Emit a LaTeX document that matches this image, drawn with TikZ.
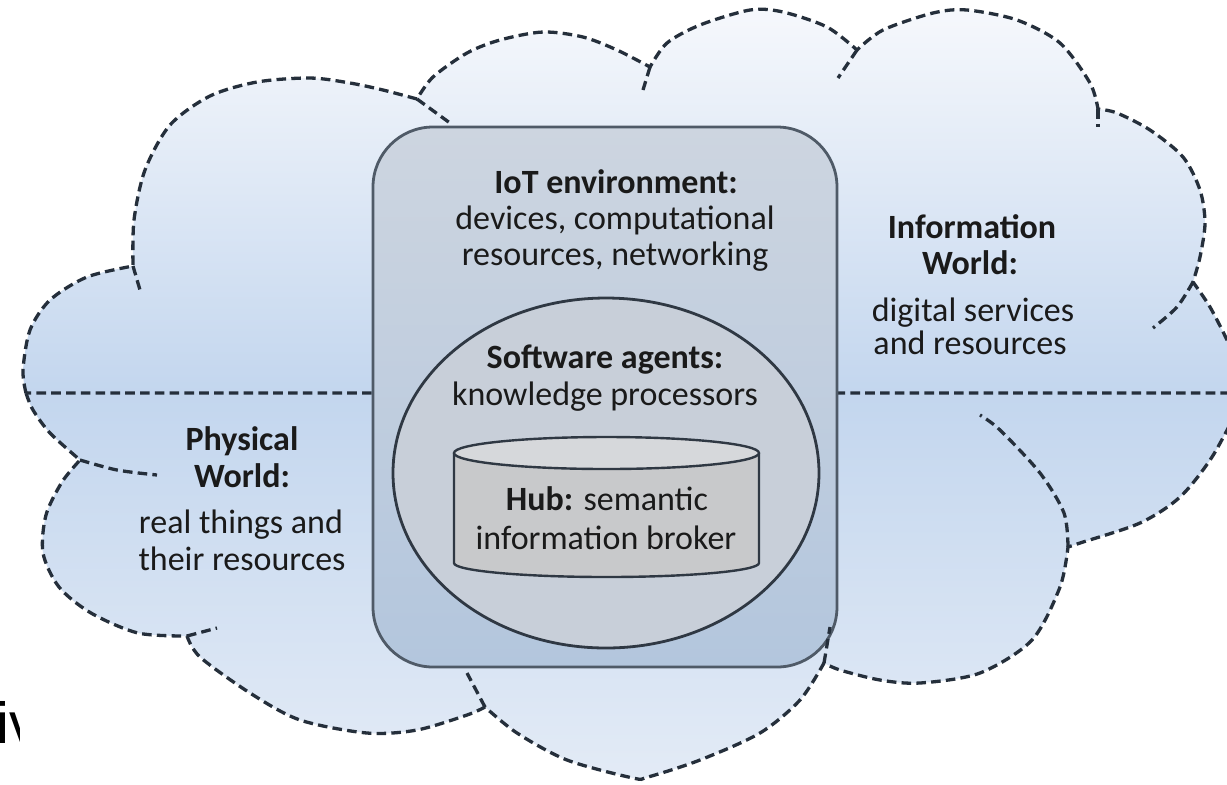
\documentclass[tikz,border=0pt]{standalone}
\usepackage{fontspec}
\setmainfont{Carlito}
\newfontfamily\ivfont{Liberation Sans}
\usetikzlibrary{shapes.geometric}
\definecolor{ucTop}{HTML}{F6F8FC}
\definecolor{ucBot}{HTML}{C3D6EE}
\definecolor{lcTop}{HTML}{C3D6EE}
\definecolor{lcBot}{HTML}{E3EBF6}
\definecolor{boxTop}{HTML}{CDD5E0}
\definecolor{boxBot}{HTML}{B3C6DD}
\definecolor{boxLine}{HTML}{4F5A67}
\definecolor{agentFill}{HTML}{C8CFD9}
\definecolor{cylBody}{HTML}{C8C9CB}
\definecolor{cylTop}{HTML}{D6D8DB}
\definecolor{inkLine}{HTML}{2F3843}
\definecolor{dashCol}{HTML}{252F3B}
\definecolor{txt}{HTML}{1A1A1A}
\tikzset{
  cloudline/.style={draw=dashCol, line width=1.65pt, dash pattern=on 4.8pt off 2.6pt},
  lbl/.style={anchor=base, inner sep=0pt, text=txt, font=\fontsize{17}{18}\selectfont},
}
\begin{document}
\begin{tikzpicture}[x=0.5pt,y=-0.5pt]
\useasboundingbox (0,0) rectangle (1227,784);
\fill[white] (0,0) rectangle (1227,784);
\node[anchor=base west, inner sep=0pt, font=\ivfont\fontsize{29}{30}\selectfont] (iv) at (-4,743) {iv};
\fill[white] (20,0) rectangle (1227,784);

% lower cloud (physical world side)
\shade[top color=lcTop, bottom color=lcBot, cloudline]
  plot[smooth] coordinates {(26,393) (33,410) (50,433) (80,460)}
  -- plot[smooth] coordinates {(80,460) (62,482) (46,515) (43,553) (59,587) (91,613) (138,633) (187,636)}
  -- plot[smooth] coordinates {(187,636) (200,657) (250,693) (300,720) (367,733) (417,730) (467,715) (485,707)}
  -- plot[smooth] coordinates {(485,707) (517,733) (567,760) (633,778) (648,777) (700,760) (760,733) (800,700) (824,663)}
  -- plot[smooth] coordinates {(824,663) (840,670) (880,680) (920,683) (980,673) (1032,640) (1060,587) (1068,547)}
  -- plot[smooth] coordinates {(1068,547) (1080,543) (1140,523) (1180,497) (1212,457) (1240,405)}
  -- (1245,405) -- (1245,393);

% upper cloud (information world side)
\shade[top color=ucTop, bottom color=ucBot, cloudline]
  plot[smooth] coordinates {(26,393) (23,370) (30,330) (50,300) (87,277) (133,266)}
  -- plot[smooth] coordinates {(133,266) (134,220) (145,170) (170,125) (210,96) (257,82) (310,78) (350,83) (383,90) (417,99)}
  -- plot[smooth] coordinates {(417,99) (433,77) (467,53) (500,40) (543,32) (583,37) (617,50) (650,67)}
  -- plot[smooth] coordinates {(650,67) (667,43) (700,25) (750,10) (783,12) (827,27) (857,50)}
  -- plot[smooth] coordinates {(857,50) (883,30) (933,13) (967,10) (1017,20) (1060,43) (1090,83) (1098,109)}
  -- plot[smooth] coordinates {(1098,109) (1117,113) (1150,130) (1183,157) (1200,190) (1205,223) (1200,257) (1193,282)}
  -- plot[smooth] coordinates {(1193,282) (1210,307) (1227,340) (1235,360)}
  -- (1245,360) -- (1245,393) -- cycle;

% cloud tails
\draw[cloudline] plot[smooth] coordinates {(133,266) (140,290)};
\draw[cloudline] plot[smooth] coordinates {(417,99) (450,123)};
\draw[cloudline] plot[smooth] coordinates {(650,67) (643,90)};
\draw[cloudline] plot[smooth] coordinates {(857,50) (838,78)};
\draw[cloudline] plot[smooth] coordinates {(1098,109) (1098,127)};
\draw[cloudline] plot[smooth] coordinates {(1193,282) (1177,307) (1153,328)};
\draw[cloudline] plot[smooth] coordinates {(80,460) (117,470) (157,475)};
\draw[cloudline] plot[smooth] coordinates {(187,636) (217,628)};
\draw[cloudline] plot[smooth] coordinates {(485,707) (467,673)};
\draw[cloudline] plot[smooth] coordinates {(1068,547) (1064,513) (1040,473) (1000,430) (980,415)};

% IoT environment box
\node[draw=boxLine, line width=1.4pt, rounded corners=30pt, top color=boxTop, bottom color=boxBot,
      minimum width=232pt, minimum height=270pt, inner sep=0pt] (iot) at (605,397) {};
\draw[cloudline] plot[smooth] coordinates {(824,663) (830,627)};

% software agents ellipse
\node[ellipse, draw=inkLine, line width=1.4pt, fill=agentFill, minimum width=213pt,
      minimum height=175pt, inner sep=0pt] (agents) at (606,473) {};

% hub cylinder
\fill[cylBody] (454,453) -- (454,563) arc[start angle=180, end angle=360, x radius=76.25pt, y radius=7pt] -- (759,453) -- cycle;
\draw[inkLine, line width=1.2pt] (454,453) -- (454,563) arc[start angle=180, end angle=360, x radius=76.25pt, y radius=7pt] -- (759,453);
\draw[inkLine, line width=1.2pt, fill=cylTop] (606.5,453) ellipse[x radius=76.25pt, y radius=8pt];
\coordinate (hub) at (606.5,510);

% texts
\node[lbl] (iotA) at (616,193) {\textbf{IoT environment:}};
\node[lbl] (iotB) at (615,229) {devices, computational};
\node[lbl] (iotC) at (615,265) {resources, networking};
\node[lbl] (agA) at (605,368) {\textbf{Software agents:}};
\node[lbl] (agB) at (605,405) {knowledge processors};
\node[lbl] (hubA) at (607,510) {\textbf{Hub:} semantic};
\node[lbl] (hubB) at (606,549) {information broker};
\node[lbl] (phA) at (242,450) {\textbf{Physical}};
\node[lbl] (phB) at (242,487) {\textbf{World:}};
\node[lbl] (phC) at (241,533) {real things and};
\node[lbl] (phD) at (242,570) {their resources};
\node[lbl] (inA) at (972,238) {\textbf{Information}};
\node[lbl] (inB) at (970,274) {\textbf{World:}};
\node[lbl] (inC) at (973,321) {digital services};
\node[lbl] (inD) at (970,354) {and resources};
\end{tikzpicture}
\end{document}
